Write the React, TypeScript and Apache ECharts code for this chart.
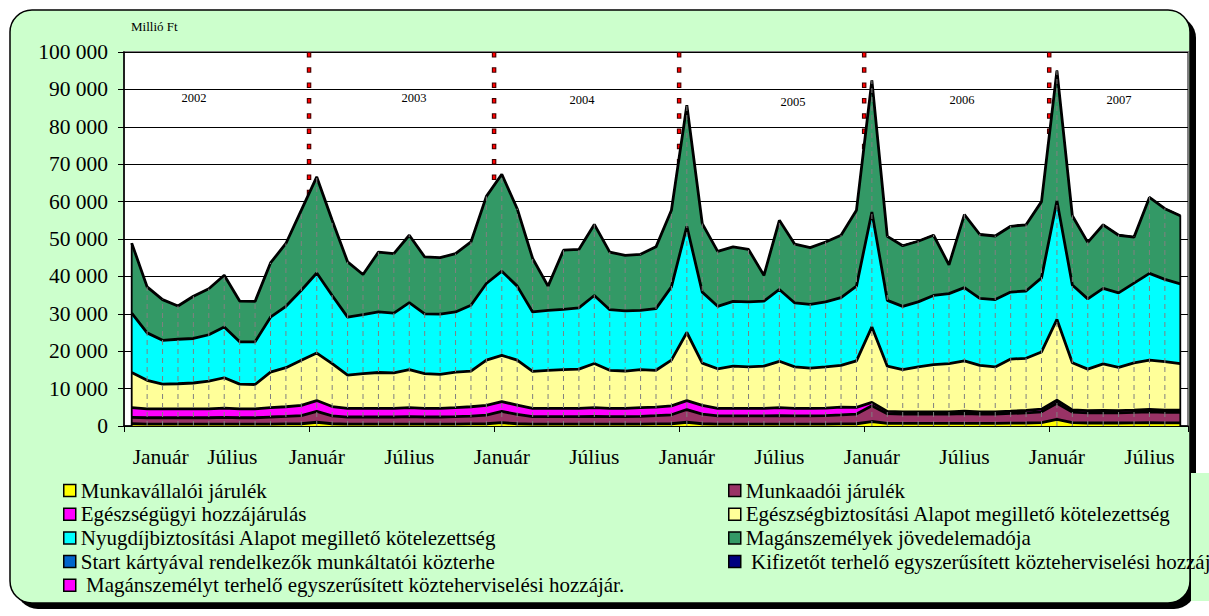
import React, { useEffect, useRef } from "react";
import * as echarts from "echarts";

const years = [2002, 2003, 2004, 2005, 2006, 2007];
const monthNames = ["Január", "Február", "Március", "Április", "Május", "Június", "Július", "Augusztus", "Szeptember", "Október", "November", "December"];
const categories = years.flatMap((y) => monthNames.map((m) => `${y} ${m}`)).slice(0, 69);

const yTicks = [0, 10000, 20000, 30000, 40000, 50000, 60000, 70000, 80000, 90000, 100000];

const munkavallaloi = [
  600, 500, 500, 500, 500, 500, 500, 500, 500, 500, 550, 600,
  1000, 600, 500, 500, 500, 500, 500, 500, 500, 500, 550, 600,
  900, 600, 500, 500, 500, 500, 500, 500, 500, 500, 550, 600,
  1000, 600, 500, 500, 500, 500, 500, 500, 500, 500, 550, 600,
  1200, 700, 700, 700, 700, 700, 700, 700, 700, 750, 800, 900,
  1800, 900, 800, 850, 800, 850, 900, 850, 850,
];
const munkaadoi = [
  1700, 1700, 1700, 1700, 1700, 1700, 1800, 1700, 1700, 1900, 2000, 2200,
  2900, 2100, 1900, 1900, 1900, 1900, 2000, 1900, 1900, 2000, 2100, 2300,
  3000, 2500, 2000, 2000, 2000, 2000, 2100, 2000, 2000, 2100, 2200, 2400,
  3400, 2600, 2200, 2200, 2200, 2200, 2300, 2200, 2200, 2300, 2400, 2600,
  4200, 2600, 2500, 2500, 2500, 2500, 2600, 2500, 2500, 2600, 2700, 2900,
  4300, 2800, 2700, 2700, 2700, 2800, 2900, 2800, 2800,
];
const egeszsegugyi = [
  2600, 2400, 2400, 2400, 2400, 2400, 2500, 2400, 2400, 2500, 2600, 2700,
  2900, 2500, 2300, 2300, 2300, 2300, 2400, 2300, 2300, 2400, 2500, 2600,
  2600, 2500, 2200, 2200, 2200, 2200, 2300, 2200, 2200, 2300, 2300, 2400,
  2400, 2300, 2000, 2000, 2000, 2000, 2100, 2000, 2000, 2000, 2100, 1800,
  900, 600, 600, 600, 600, 600, 650, 600, 600, 600, 650, 700,
  800, 600, 600, 600, 600, 600, 650, 600, 600,
];
const egeszsegbiztositasi = [
  9400, 7600, 6600, 6700, 6900, 7400, 8100, 6600, 6500, 9500, 10450, 12100,
  12700, 11500, 8900, 9300, 9600, 9500, 10200, 9300, 9100, 9500, 9550, 12100,
  12400, 12000, 9900, 10200, 10400, 10500, 11800, 10200, 10000, 10200, 9850, 12200,
  18200, 11300, 10600, 11300, 11100, 11300, 12400, 11100, 10800, 11000, 11150, 12400,
  20200, 12100, 11300, 12000, 12600, 12900, 13450, 12400, 12000, 13950, 13950, 15300,
  21600, 12600, 11100, 12450, 11600, 12650, 13150, 12950, 12450,
];
const nyugdij = [
  15900, 12700, 11700, 11900, 11900, 12400, 13600, 11300, 11400, 14700, 16400, 18700,
  21400, 18200, 15500, 15800, 16200, 16000, 17900, 16000, 16100, 16100, 17600, 20500,
  22500, 19800, 15900, 16000, 16100, 16400, 18200, 16200, 16100, 15800, 16500, 19600,
  28400, 19000, 16700, 17300, 17400, 17400, 19200, 17100, 17000, 17400, 18100, 20000,
  30700, 17600, 16900, 17400, 18500, 18700, 19600, 17900, 18000, 17900, 18000, 19800,
  31700, 20800, 18800, 20200, 19900, 21300, 23200, 22000, 21300,
];
const szja = [
  18700, 12300, 10900, 8900, 11300, 12300, 13800, 10900, 10800, 14500, 16800, 21400,
  25700, 20100, 14800, 10700, 16000, 15900, 18000, 15200, 15100, 15600, 16900, 23300,
  25900, 20700, 14300, 6500, 15800, 15600, 19000, 15400, 14800, 15000, 16500, 20500,
  32400, 18300, 14700, 14600, 14000, 6900, 18500, 15700, 15200, 16000, 16700, 20300,
  35200, 17100, 16200, 16200, 16100, 7700, 19500, 17100, 17000, 17600, 17700, 20400,
  34800, 18500, 15100, 17000, 15400, 12300, 20300, 18900, 18200,
];
const startKartya = [
  0, 0, 0, 0, 0, 0, 0, 0, 0, 0, 0, 0,
  0, 0, 0, 0, 0, 0, 0, 0, 0, 0, 0, 0,
  0, 0, 0, 0, 0, 0, 0, 0, 0, 0, 0, 0,
  10, 15, 15, 15, 20, 20, 20, 20, 20, 20, 20, 25,
  30, 25, 25, 25, 25, 25, 25, 25, 25, 25, 25, 30,
  30, 25, 25, 25, 25, 25, 25, 25, 25,
];
const kifizeto = [
  0, 0, 0, 0, 0, 0, 0, 0, 0, 0, 0, 0,
  0, 0, 0, 0, 0, 0, 0, 0, 0, 0, 0, 0,
  0, 0, 0, 0, 0, 0, 0, 0, 0, 0, 0, 0,
  0, 0, 0, 0, 0, 0, 0, 0, 0, 0, 0, 0,
  20, 40, 50, 60, 60, 60, 70, 70, 70, 70, 70, 80,
  90, 80, 80, 80, 80, 80, 80, 80, 80,
];
const maganszemely = [
  0, 0, 0, 0, 0, 0, 0, 0, 0, 0, 0, 0,
  0, 0, 0, 0, 0, 0, 0, 0, 0, 0, 0, 0,
  0, 0, 0, 0, 0, 0, 0, 0, 0, 0, 0, 0,
  0, 0, 0, 0, 0, 0, 0, 0, 0, 0, 0, 0,
  10, 20, 25, 25, 30, 30, 30, 30, 30, 30, 30, 35,
  40, 35, 35, 35, 35, 35, 35, 35, 35,
];

const seriesNames = [
  "Munkavállalói járulék",
  "Munkaadói járulék",
  "Egészségügyi hozzájárulás",
  "Egészségbiztosítási Alapot megillető kötelezettség",
  "Nyugdíjbiztosítási Alapot megillető kötelezettség",
  "Magánszemélyek jövedelemadója",
  "Start kártyával rendelkezők munkáltatói közterhe",
  " Kifizetőt terhelő egyszerűsített közteherviselési hozzájárulás",
  " Magánszemélyt terhelő egyszerűsített közteherviselési hozzájár.",
];
const seriesData = [munkavallaloi, munkaadoi, egeszsegugyi, egeszsegbiztositasi, nyugdij, szja, startKartya, kifizeto, maganszemely];
const seriesColors = ["#FFFF00", "#993366", "#FF00FF", "#FFFF99", "#00FFFF", "#339966", "#0066CC", "#000080", "#FF00FF"];

const yearStartIndex = [12, 24, 36, 48, 60];
const yearLabels = ["2002", "2003", "2004", "2005", "2006", "2007"];
const yearLabelPos = [[194, 98], [414, 98], [582, 100], [793, 102], [962, 100], [1119, 100]];

const SERIF = "Liberation Serif";
const FS = 21.5;
const LFS = 21;

export default function App() {
  const ref = useRef<HTMLDivElement>(null);
  useEffect(() => {
    if (!ref.current) return;
    const chart = echarts.init(ref.current, undefined, { renderer: "svg" });
    const totals = categories.map((_, i) => seriesData.reduce((s, arr) => s + arr[i], 0));
    const last = categories.length - 1;

    const areaSeries = seriesNames.map((name, k) => ({
      name,
      type: "line",
      stack: "total",
      data: seriesData[k],
      color: seriesColors[k],
      symbol: "none",
      showSymbol: false,
      lineStyle: { color: "#000", width: k >= 6 ? 1 : 2.8 },
      areaStyle: { color: seriesColors[k], opacity: 1 },
      z: 2,
    }));

    const leftLegend = [0, 2, 4, 6, 8].map((k) => seriesNames[k]);
    const rightLegend = [1, 3, 5, 7].map((k) => seriesNames[k]);
    const legendCommon = {
      orient: "vertical",
      itemWidth: 12,
      itemHeight: 12,
      itemGap: 2.7,
      icon: "rect",
      padding: 0,
      selectedMode: false,
      textStyle: { fontFamily: SERIF, fontSize: LFS, color: "#000", lineHeight: LFS },
      itemStyle: { borderColor: "#000", borderWidth: 1.5 },
      lineStyle: { width: 0 },
    };

    const labelRich = {
      f: { fontFamily: SERIF, fontSize: FS, color: "#000", padding: [0, 0, 0, 58] },
      s: { fontFamily: SERIF, fontSize: FS, color: "#000", padding: [0, 0, 0, 16] },
      n: { fontFamily: SERIF, fontSize: FS, color: "#000" },
    };

    chart.setOption({
      animation: false,
      backgroundColor: "#ffffff",
      textStyle: { fontFamily: SERIF },
      grid: { left: 124, right: 21, top: 52, bottom: 190, show: true, backgroundColor: "#ffffff", borderColor: "#808080", borderWidth: 2 },
      xAxis: {
        type: "category",
        data: categories,
        boundaryGap: true,
        axisLine: { lineStyle: { color: "#000", width: 1.5 } },
        axisTick: { show: true, interval: 11, length: 6, lineStyle: { color: "#000", width: 1 } },
        axisLabel: {
          interval: (i: number) => i % 6 === 0,
          margin: 20,
          fontFamily: SERIF,
          fontSize: FS,
          color: "#000",
          rich: labelRich,
          formatter: (v: string, i: number) => {
            const m = v.split(" ")[1];
            if (i === 0) return `{f|${m}}`;
            if (i === 6) return `{s|${m}}`;
            return `{n|${m}}`;
          },
        },
        splitLine: { show: false },
      },
      yAxis: {
        type: "value",
        min: yTicks[0],
        max: yTicks[yTicks.length - 1],
        interval: yTicks[1] - yTicks[0],
        axisLine: { show: true, lineStyle: { color: "#000", width: 1.5 } },
        axisTick: { show: true, length: 6, lineStyle: { color: "#000" } },
        axisLabel: {
          fontFamily: SERIF,
          fontSize: FS,
          color: "#000",
          margin: 16,
          formatter: (v: number) => String(v).replace(/\B(?=(\d{3})+(?!\d))/g, " "),
        },
        splitLine: { show: true, lineStyle: { color: "#000", width: 1 } },
      },
      legend: [
        { ...legendCommon, data: leftLegend, left: 63, top: 480 },
        { ...legendCommon, data: rightLegend, left: 728, top: 480 },
      ],
      series: [
        {
          name: "evhatar",
          type: "custom",
          z: 1,
          silent: true,
          data: yearStartIndex.map((i) => [i, yTicks[yTicks.length - 1]]),
          encode: { x: 0, y: 1 },
          renderItem: (params: any, api: any) => {
            const i = api.value(0);
            const a = api.coord([i - 1, 0]);
            const b = api.coord([i, 0]);
            const x = (a[0] + b[0]) / 2;
            const top = api.coord([i, api.value(1)])[1];
            return {
              type: "group",
              children: [
                { type: "line", shape: { x1: x, y1: top, x2: x, y2: b[1] }, style: { stroke: "#400000", lineWidth: 4.5, lineDash: [5.5, 9.8] } },
                { type: "line", shape: { x1: x, y1: top + 1, x2: x, y2: b[1] }, style: { stroke: "#FF0000", lineWidth: 2.4, lineDash: [3.5, 11.8] } },
              ],
            };
          },
        },
        ...areaSeries,
        {
          name: "esesvonal",
          type: "custom",
          z: 3,
          silent: true,
          data: totals.map((t, i) => [i, t]),
          encode: { x: 0, y: 1 },
          renderItem: (params: any, api: any) => {
            const i = api.value(0);
            const p0 = api.coord([i, 0]);
            const p1 = api.coord([i, api.value(1)]);
            const edge = i === 0 || i === last;
            return {
              type: "line",
              shape: { x1: p0[0], y1: p0[1], x2: p1[0], y2: p1[1] },
              style: edge
                ? { stroke: "#000", lineWidth: 1.8 }
                : { stroke: "#808080", lineWidth: 1, lineDash: [5, 4] },
            };
          },
        },
      ],
      graphic: [
        { type: "rect", z: -100, shape: { x: 16, y: 16, width: 1180, height: 593, r: 22 }, style: { fill: "#000" } },
        { type: "rect", z: -99, shape: { x: 10, y: 10, width: 1180, height: 593, r: 22 }, style: { fill: "#CCFFCC", stroke: "#000", lineWidth: 1.5 } },
        { type: "rect", z: -98, shape: { x: 1191, y: 473, width: 18, height: 128 }, style: { fill: "#CCFFCC" } },
        { type: "text", z: 10, x: 131, y: 26, style: { text: "Millió Ft", font: `13px ${SERIF}`, fill: "#000", verticalAlign: "middle" } },
        ...yearLabels.map((t, k) => ({
          type: "text",
          z: 10,
          x: yearLabelPos[k][0],
          y: yearLabelPos[k][1],
          style: { text: t, font: `12.5px ${SERIF}`, fill: "#000", align: "center", verticalAlign: "middle" },
        })),
      ],
    });
    return () => chart.dispose();
  }, []);
  return <div ref={ref} style={{ position: "absolute", left: 0, top: 0, width: 1209, height: 616 }} />;
}
